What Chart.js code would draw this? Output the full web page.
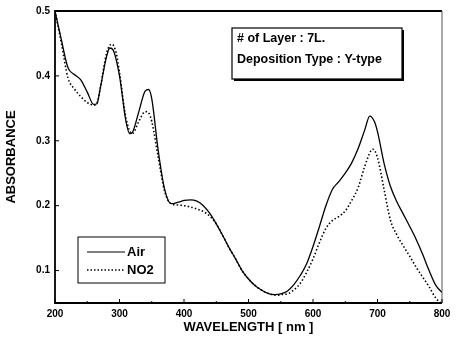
<!DOCTYPE html>
<html><head><meta charset="utf-8">
<script src="https://cdn.jsdelivr.net/npm/chart.js@4/dist/chart.umd.min.js"></script>
<style>html,body{margin:0;padding:0;background:#fff}#wrap{width:459px;height:345px}</style>
</head><body><div id="wrap"><canvas id="c" width="459" height="345"></canvas></div>
<script>
const wavelengthsAir = [200,210,220,230,240,250,260,265,270,280,285,290,300,310,316,320,330,340,345,350,360,370,380,390,400,410,420,430,440,450,460,470,480,490,500,510,520,530,540,550,560,570,580,590,600,610,620,630,640,650,660,670,680,688,695,700,710,720,730,740,750,760,770,780,790,800];
const absorbanceAir = [0.50,0.455,0.413,0.402,0.394,0.375,0.356,0.357,0.38,0.43,0.443,0.44,0.40,0.33,0.311,0.313,0.345,0.377,0.379,0.365,0.285,0.225,0.203,0.205,0.208,0.209,0.207,0.200,0.188,0.172,0.154,0.135,0.118,0.100,0.087,0.077,0.070,0.065,0.063,0.064,0.068,0.078,0.092,0.110,0.137,0.168,0.200,0.225,0.237,0.250,0.266,0.288,0.316,0.338,0.330,0.314,0.266,0.230,0.206,0.187,0.168,0.148,0.125,0.100,0.078,0.066];
const wavelengthsNO2 = [200,210,220,230,240,250,260,265,270,280,288,295,300,310,320,330,340,345,350,360,370,380,390,400,410,420,430,440,450,460,470,480,490,500,510,520,530,545,550,560,570,580,590,600,610,620,630,640,650,660,670,680,690,693,700,710,720,730,740,750,760,770,780,790,798];
const absorbanceNO2 = [0.50,0.45,0.397,0.380,0.368,0.359,0.355,0.358,0.38,0.435,0.449,0.435,0.405,0.335,0.311,0.33,0.345,0.343,0.33,0.275,0.222,0.203,0.201,0.200,0.198,0.195,0.191,0.184,0.172,0.154,0.135,0.118,0.100,0.087,0.077,0.070,0.065,0.062,0.063,0.064,0.070,0.080,0.097,0.118,0.143,0.165,0.177,0.183,0.192,0.208,0.228,0.260,0.285,0.287,0.274,0.226,0.178,0.155,0.138,0.122,0.105,0.090,0.075,0.058,0.050];
const xTicks = [200,300,400,500,600,700,800];
const yTicks = [0.1,0.2,0.3,0.4,0.5];
const yTickLabels = ['0.1','0.2','0.3','0.4','0.5'];
const seriesNames = ['Air','NO2'];
const noteLines = ['# of Layer : 7L.','Deposition Type : Y-type'];

const FONT = '"Liberation Sans", Arial, sans-serif';
const toPts = (xs, ys) => xs.map((x, i) => ({x, y: ys[i]}));

const decor = {
  id: 'decor',
  afterDraw(chart) {
    const {ctx, chartArea: a, scales: {x, y}} = chart;
    ctx.save();
    ctx.strokeStyle = '#000';
    ctx.lineWidth = 1.8;
    ctx.beginPath();
    ctx.moveTo(a.right, a.top); ctx.lineTo(a.left, a.top); ctx.lineTo(a.left, a.bottom); ctx.lineTo(a.right, a.bottom);
    ctx.stroke();
    ctx.lineWidth = 1;
    ctx.strokeStyle = '#555';
    ctx.beginPath(); ctx.moveTo(a.right, a.top); ctx.lineTo(a.right, a.bottom); ctx.stroke();
    ctx.strokeStyle = '#000';
    ctx.lineWidth = 1;
    xTicks.forEach(v => { const px = x.getPixelForValue(v); ctx.beginPath(); ctx.moveTo(px, a.bottom); ctx.lineTo(px, a.bottom - 4); ctx.stroke(); });
    [250,350,450,550,650,750].forEach(v => { const px = x.getPixelForValue(v); ctx.beginPath(); ctx.moveTo(px, a.bottom); ctx.lineTo(px, a.bottom - 2); ctx.stroke(); });
    yTicks.forEach(v => { const py = y.getPixelForValue(v); ctx.beginPath(); ctx.moveTo(a.left, py); ctx.lineTo(a.left + 4, py); ctx.stroke(); });
    const bx = 232, by = 28, bw = 170, bh = 51;
    ctx.fillStyle = '#000';
    ctx.fillRect(bx + 2, by + 2, bw, bh);
    ctx.fillStyle = '#fff';
    ctx.fillRect(bx, by, bw, bh);
    ctx.lineWidth = 1.2;
    ctx.strokeRect(bx, by, bw, bh);
    ctx.fillStyle = '#000';
    ctx.font = 'bold 12.5px ' + FONT;
    ctx.textBaseline = 'middle';
    ctx.textAlign = 'left';
    ctx.fillText(noteLines[0], bx + 5, by + 11);
    ctx.fillText(noteLines[1], bx + 5, by + 32);
    const lx = 78, ly = 237, lw = 87, lh = 46;
    ctx.lineWidth = 1;
    ctx.strokeRect(lx, ly, lw, lh);
    ctx.beginPath(); ctx.moveTo(lx + 9, ly + 15); ctx.lineTo(lx + 47, ly + 15); ctx.stroke();
    ctx.setLineDash([1.5, 2]);
    ctx.lineWidth = 1.4;
    ctx.beginPath(); ctx.moveTo(lx + 9, ly + 33); ctx.lineTo(lx + 47, ly + 33); ctx.stroke();
    ctx.setLineDash([]);
    ctx.font = 'bold 13px ' + FONT;
    ctx.fillText(seriesNames[0], lx + 49, ly + 15);
    ctx.fillText(seriesNames[1], lx + 49, ly + 33);
    ctx.restore();
  }
};

new Chart(document.getElementById('c'), {
  type: 'line',
  data: {
    datasets: [
      { label: seriesNames[0], data: toPts(wavelengthsAir, absorbanceAir), borderColor: '#000', borderWidth: 1.3, pointRadius: 0, tension: 0.4, cubicInterpolationMode: 'monotone', fill: false },
      { label: seriesNames[1], data: toPts(wavelengthsNO2, absorbanceNO2), borderColor: '#000', borderWidth: 1.6, borderDash: [1.5, 2.2], pointRadius: 0, tension: 0.4, cubicInterpolationMode: 'monotone', fill: false }
    ]
  },
  options: {
    responsive: false, animation: false,
    layout: { padding: { left: 0, right: 17, top: 11, bottom: 6 } },
    plugins: { legend: { display: false }, tooltip: { enabled: false } },
    scales: {
      x: {
        type: 'linear', min: 200, max: 800,
        afterBuildTicks: s => { s.ticks = xTicks.map(v => ({value: v})); },
        afterFit: s => { s.height = 36; },
        grid: { display: false, drawTicks: false },
        border: { display: false },
        ticks: { color: '#000', font: { family: FONT, size: 10, weight: 'bold' }, padding: 5, maxRotation: 0 },
        title: { display: true, text: 'WAVELENGTH [ nm ]', color: '#000', font: { family: FONT, size: 13, weight: 'bold' }, padding: { top: 0 } }
      },
      y: {
        type: 'linear', min: 0.05, max: 0.5,
        afterBuildTicks: s => { s.ticks = yTicks.map(v => ({value: v})); },
        afterFit: s => { s.width = 55; },
        grid: { display: false, drawTicks: false },
        border: { display: false },
        ticks: { color: '#000', font: { family: FONT, size: 10, weight: 'bold' }, padding: 5,
          callback: (v, i) => yTickLabels[i] },
        title: { display: true, text: 'ABSORBANCE', color: '#000', font: { family: FONT, size: 13, weight: 'bold' }, padding: { bottom: 2 } }
      }
    }
  },
  plugins: [decor]
});
</script></body></html>
